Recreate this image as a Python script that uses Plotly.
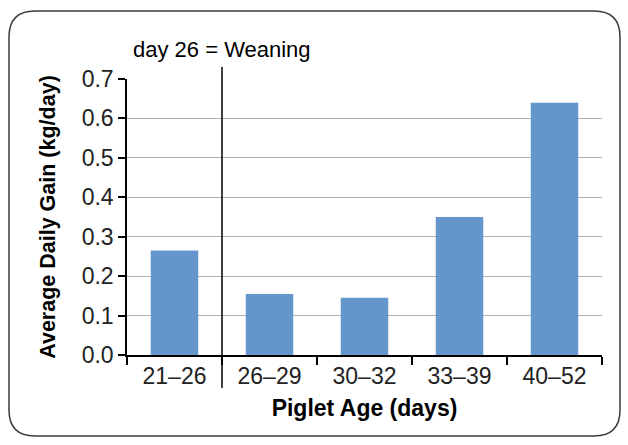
import plotly.graph_objects as go

categories = ["21–26", "26–29", "30–32", "33–39", "40–52"]
gain = [0.265, 0.155, 0.145, 0.35, 0.64]
y_ticks = [0.0, 0.1, 0.2, 0.3, 0.4, 0.5, 0.6, 0.7]
y_ticklabels = ["0.0", "0.1", "0.2", "0.3", "0.4", "0.5", "0.6", "0.7"]

W, H = 628, 445
ML, MR, MT, MB = 127, 26, 79, 90
PW, PH = W - ML - MR, H - MT - MB

def px(x):
    return (x - ML) / PW

def py(y):
    return (H - MB - y) / PH

fig = go.Figure()
fig.add_trace(go.Bar(x=categories, y=gain, marker=dict(color="#6596CB", line=dict(width=0)),
                     width=0.5, hoverinfo="skip"))

# rounded border box
x0, x1, y0, y1, r = 9, 620, 11, 436, 26
path = (f"M {px(x0+r)},{py(y0)} L {px(x1-r)},{py(y0)} "
        f"Q {px(x1)},{py(y0)} {px(x1)},{py(y0+r)} "
        f"L {px(x1)},{py(y1-r)} Q {px(x1)},{py(y1)} {px(x1-r)},{py(y1)} "
        f"L {px(x0+r)},{py(y1)} Q {px(x0)},{py(y1)} {px(x0)},{py(y1-r)} "
        f"L {px(x0)},{py(y0+r)} Q {px(x0)},{py(y0)} {px(x0+r)},{py(y0)} Z")
fig.add_shape(type="path", path=path, xref="paper", yref="paper",
              line=dict(color="#3a3a3a", width=1.5), layer="below")

# weaning line
fig.add_shape(type="line", xref="x", yref="paper", x0=0.5, x1=0.5,
              y0=py(388), y1=py(67), line=dict(color="black", width=1.5))
fig.add_annotation(x=0.5, xref="x", y=py(50), yref="paper", text="day 26 = Weaning",
                   showarrow=False, font=dict(size=22, color="black", family="Liberation Sans"),
                   xanchor="center", yanchor="middle")

fig.update_layout(
    width=W, height=H, margin=dict(l=ML, r=MR, t=MT, b=MB),
    paper_bgcolor="white", plot_bgcolor="white", showlegend=False,
    font=dict(family="Liberation Sans", color="black"),
    xaxis=dict(
        type="category", range=[-0.5, 4.5], tickson="boundaries",
        ticks="outside", ticklen=8, tickwidth=1.5, tickcolor="black",
        showline=True, linecolor="black", linewidth=1.5,
        showgrid=False, tickfont=dict(size=23, family="Liberation Sans", color="#222"),
        title=dict(text="<b>Piglet Age (days)</b>", font=dict(size=23, family="Liberation Sans"), standoff=12),
    ),
    yaxis=dict(
        range=[0, 0.7], tickvals=y_ticks, ticktext=y_ticklabels,
        ticks="outside", ticklen=7, tickwidth=1.5, tickcolor="black",
        showline=True, linecolor="black", linewidth=1.5,
        showgrid=True, gridcolor="#b0b0b0", gridwidth=1.2, zeroline=False,
        tickfont=dict(size=23, family="Liberation Sans", color="#222"),
        title=dict(text="<b>Average Daily Gain (kg/day)</b>", font=dict(size=21.5, family="Liberation Sans"), standoff=20),
    ),
)

fig.write_html("out.html", config={"displayModeBar": False},
               post_script="document.body.style.margin='0';")
